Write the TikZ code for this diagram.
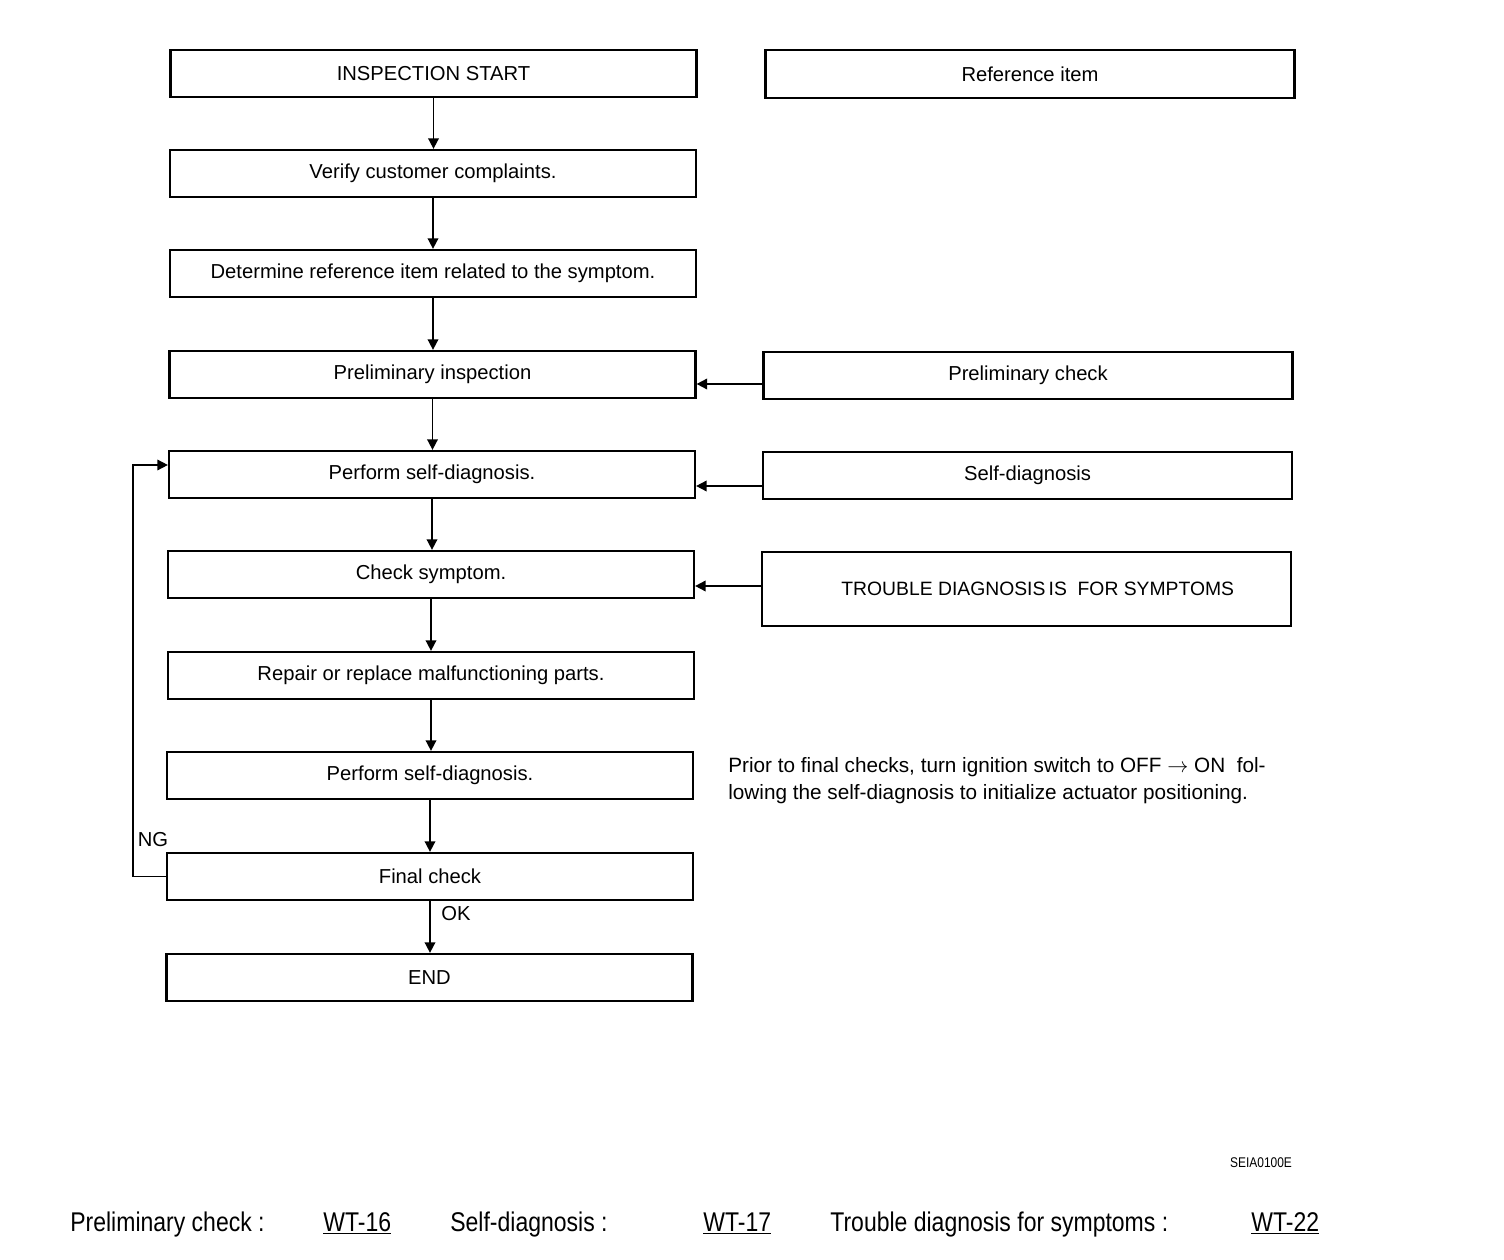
\documentclass[tikz,border=0pt]{standalone}
\usepackage{fontspec}
\setmainfont{Liberation Sans}
\newfontfamily\narrowfont[FakeStretch=0.85]{Liberation Sans}
\usetikzlibrary{arrows.meta}
\begin{document}
\begin{tikzpicture}[x=0.02cm,y=-0.02cm,
  box/.style={draw,line width=1.3pt,minimum width=10.52cm,minimum height=0.94cm,inner sep=0pt,font=\fontsize{11.5}{13}\selectfont},
  rbox/.style={box,minimum width=10.58cm},
  arr/.style={line width=1pt,-{Triangle[length=6pt,width=6pt]}},
  lbl/.style={font=\fontsize{11.5}{13}\selectfont,inner sep=0pt},
  foot/.style={font=\narrowfont\fontsize{15.4}{18}\selectfont,inner sep=0pt,anchor=base west}]
\useasboundingbox (0,0) rectangle (1504,1260);
% left column
\node[box] (start) at (433.5,73.5) {INSPECTION START};
\node[box] (verify) at (433,173.5) {Verify customer complaints.};
\node[box] (determine) at (433,273.5) {Determine reference item related to the symptom.};
\node[box] (prelim) at (432.5,374.5) {Preliminary inspection};
\node[box] (selfdiag) at (432,474.5) {Perform self-diagnosis.};
\node[box] (check) at (431,574.5) {Check symptom.};
\node[box] (repair) at (431,675.5) {Repair or replace malfunctioning parts.};
\node[box] (selfdiagb) at (430,775.5) {Perform self-diagnosis.};
\node[box] (final) at (430,876.5) {Final check};
\node[box] (end) at (429.5,977.5) {END};
% right column
\node[rbox,minimum height=0.96cm] (ref) at (1030,74) {Reference item};
\node[rbox] (pc) at (1028,375.5) {Preliminary check};
\node[rbox] (sd) at (1027.5,475.5) {Self-diagnosis};
\node[rbox,minimum height=1.48cm,font=\fontsize{11}{13}\selectfont] (tds) at (1026.5,589) {\hspace*{0.45cm}TROUBLE DIAGNOSIS\,IS\ \ FOR SYMPTOMS};
% vertical arrows
\foreach \a/\b in {start/verify,verify/determine,determine/prelim,prelim/selfdiag,selfdiag/check,check/repair,repair/selfdiagb,selfdiagb/final,final/end}
  \draw[arr] (\a.south) -- (\a.south |- \b.north);
% horizontal arrows
\draw[arr] ([yshift=-0.17cm]pc.west) -- ([yshift=-0.17cm]pc.west -| prelim.east);
\draw[arr] ([yshift=-0.21cm]sd.west) -- ([yshift=-0.21cm]sd.west -| selfdiag.east);
\draw[arr] ([yshift=0.06cm]tds.west) -- ([yshift=0.06cm]tds.west -| check.east);
% NG loop
\coordinate (ngx) at (133,0);
\coordinate (sdin) at ([yshift=0.19cm]selfdiag.west);
\draw[arr,line width=0.9pt] (final.west) -- (final.west -| ngx) -- (ngx |- sdin) -- (sdin);
\node[lbl] (ng) at (153,840) {NG};
\node[lbl] (ok) at (456,914) {OK};
% note
\node[lbl,anchor=north west,align=left,font=\fontsize{11.8}{15.3}\selectfont] (note) at (728,757)
  {Prior to final checks, turn ignition switch to OFF $\rightarrow$\ ON\ \ fol-\\
   lowing the self-diagnosis to initialize actuator positioning.};
% code
\node[lbl,font=\narrowfont\fontsize{8}{9}\selectfont] (code) at (1261,1163) {SEIA0100E};
% footer
\node[foot] (f1) at (70,1231) {Preliminary check :};
\node[foot] (f2) at (323,1231) {\underline{WT-16}};
\node[foot] (f3) at (450,1231) {Self-diagnosis :};
\node[foot] (f4) at (703,1231) {\underline{WT-17}};
\node[foot] (f5) at (830,1231) {Trouble diagnosis for symptoms :};
\node[foot] (f6) at (1251,1231) {\underline{WT-22}};
\end{tikzpicture}
\end{document}
